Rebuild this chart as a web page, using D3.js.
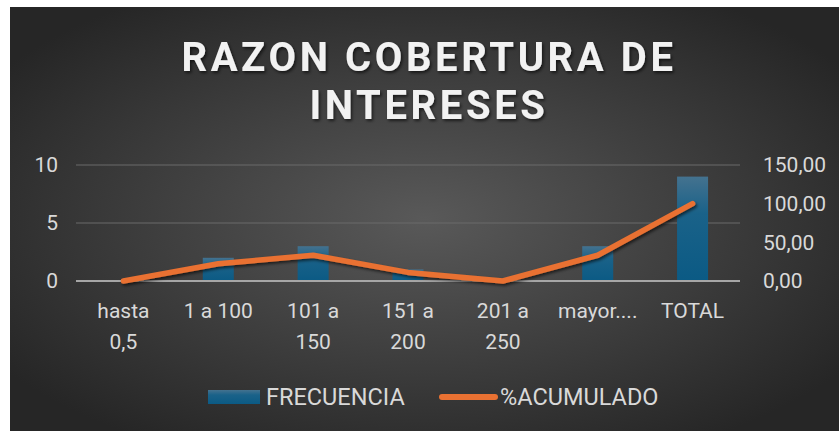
<!DOCTYPE html>
<html>
<head>
<meta charset="utf-8">
<script src="https://cdn.jsdelivr.net/npm/d3@7"></script>
<style>
  html, body { margin: 0; padding: 0; background: #fff; }
  svg { display: block; font-family: Roboto, "Liberation Sans", sans-serif; }
</style>
</head>
<body>
<div id="chart"></div>
<script>
const categories = ["hasta 0,5", "1 a 100", "101 a 150", "151 a 200", "201 a 250", "mayor....", "TOTAL"];
const frecuencia = [0, 2, 3, 1, 0, 3, 9];
const acumulado = [0, 22.22, 33.33, 11.11, 0, 33.33, 100];
const leftTicks = [0, 5, 10];
const rightTicks = [0, 50, 100, 150];
const titleLines = ["RAZON COBERTURA DE", "INTERESES"];
const seriesNames = ["FRECUENCIA", "%ACUMULADO"];

const W = 839, H = 431;
const plot = { left: 76, right: 740, top: 165, bottom: 281 };

const svg = d3.select("#chart").append("svg")
  .attr("width", W).attr("height", H);

const defs = svg.append("defs");
const bg = defs.append("radialGradient").attr("id", "bg")
  .attr("cx", "50%").attr("cy", "50%").attr("r", "62%");
bg.append("stop").attr("offset", "0%").attr("stop-color", "#595959");
bg.append("stop").attr("offset", "100%").attr("stop-color", "#262626");

const barGrad = defs.append("linearGradient").attr("id", "barGrad")
  .attr("x1", 0).attr("y1", 0).attr("x2", 0).attr("y2", 1);
barGrad.append("stop").attr("offset", "0%").attr("stop-color", "#44728f");
barGrad.append("stop").attr("offset", "35%").attr("stop-color", "#1a6289");
barGrad.append("stop").attr("offset", "100%").attr("stop-color", "#0b5a84");

const shadow = defs.append("filter").attr("id", "shadow")
  .attr("x", "-10%").attr("y", "-20%").attr("width", "120%").attr("height", "160%");
shadow.append("feDropShadow").attr("dx", 1.5).attr("dy", 2).attr("stdDeviation", 1.5)
  .attr("flood-color", "#000").attr("flood-opacity", 0.6);

svg.append("rect")
  .attr("x", 10).attr("y", 7).attr("width", W - 10).attr("height", H - 7)
  .attr("fill", "url(#bg)");

// title
svg.append("g").attr("filter", "url(#shadow)")
  .selectAll("text").data(titleLines).enter().append("text")
  .attr("x", 429).attr("y", (d, i) => 71 + i * 48)
  .attr("text-anchor", "middle")
  .attr("fill", "#f2f2f2")
  .style("font-size", "40px").style("font-weight", "bold")
  .style("letter-spacing", "3.6px")
  .text(d => d);

const x = d3.scaleBand().domain(categories).range([plot.left, plot.right]);
const yL = d3.scaleLinear().domain([0, 10]).range([plot.bottom, plot.top]);
const yR = d3.scaleLinear().domain([0, 150]).range([plot.bottom, plot.top]);

// gridlines
svg.append("g").selectAll("line").data(leftTicks.filter(t => t > 0)).enter().append("line")
  .attr("x1", plot.left).attr("x2", plot.right)
  .attr("y1", d => yL(d)).attr("y2", d => yL(d))
  .attr("stroke", "#6a6a6a").attr("stroke-width", 1);

// left axis labels
svg.append("g").selectAll("text").data(leftTicks).enter().append("text")
  .attr("x", 58).attr("y", d => yL(d)).attr("dy", "0.35em")
  .attr("text-anchor", "end").attr("fill", "#d9d9d9")
  .style("font-size", "21px").text(d => d);

// right axis labels
const fmt = d => d3.format(".2f")(d).replace(".", ",");
svg.append("g").selectAll("text").data(rightTicks).enter().append("text")
  .attr("x", 763).attr("y", d => yR(d)).attr("dy", "0.35em")
  .attr("fill", "#d9d9d9")
  .style("font-size", "21px").text(fmt);

// bars
const barW = 31;
svg.append("g").selectAll("rect").data(frecuencia).enter().append("rect")
  .attr("x", (d, i) => x(categories[i]) + x.bandwidth() / 2 - barW / 2)
  .attr("y", d => yL(d))
  .attr("width", barW)
  .attr("height", d => yL(0) - yL(d))
  .attr("fill", "url(#barGrad)");

// baseline
svg.append("line")
  .attr("x1", plot.left).attr("x2", plot.right)
  .attr("y1", yL(0)).attr("y2", yL(0))
  .attr("stroke", "#a6a6a6").attr("stroke-width", 2);

// line
const line = d3.line()
  .x((d, i) => x(categories[i]) + x.bandwidth() / 2)
  .y(d => yR(d));
svg.append("path").datum(acumulado)
  .attr("d", line)
  .attr("fill", "none").attr("stroke", "#e97132")
  .attr("stroke-width", 5.5).attr("stroke-linecap", "round").attr("stroke-linejoin", "round")
  .attr("filter", "url(#shadow)");

// category labels, wrapped
const catG = svg.append("g");
categories.forEach(c => {
  const words = c.split(" ");
  const lines = [];
  let cur = "";
  const t = catG.append("text").style("font-size", "21px");
  words.forEach(w => {
    const test = cur ? cur + " " + w : w;
    t.text(test);
    if (t.node().getComputedTextLength() > 82 && cur) { lines.push(cur); cur = w; }
    else cur = test;
  });
  lines.push(cur);
  t.text(null)
    .attr("text-anchor", "middle").attr("fill", "#d9d9d9");
  lines.forEach((l, i) => {
    t.append("tspan").attr("x", x(c) + x.bandwidth() / 2).attr("y", 318 + i * 31).text(l);
  });
});

// legend
const lg = svg.append("g");
lg.append("rect").attr("x", 208).attr("y", 390).attr("width", 52).attr("height", 14)
  .attr("fill", "url(#barGrad)");
lg.append("text").attr("x", 266).attr("y", 397).attr("dy", "0.35em")
  .attr("fill", "#d9d9d9").style("font-size", "23.5px").text(seriesNames[0]);
lg.append("line").attr("x1", 442).attr("x2", 495).attr("y1", 397).attr("y2", 397)
  .attr("stroke", "#e97132").attr("stroke-width", 6).attr("stroke-linecap", "round");
lg.append("text").attr("x", 500).attr("y", 397).attr("dy", "0.35em")
  .attr("fill", "#d9d9d9").style("font-size", "23.5px").text(seriesNames[1]);
</script>
</body>
</html>
